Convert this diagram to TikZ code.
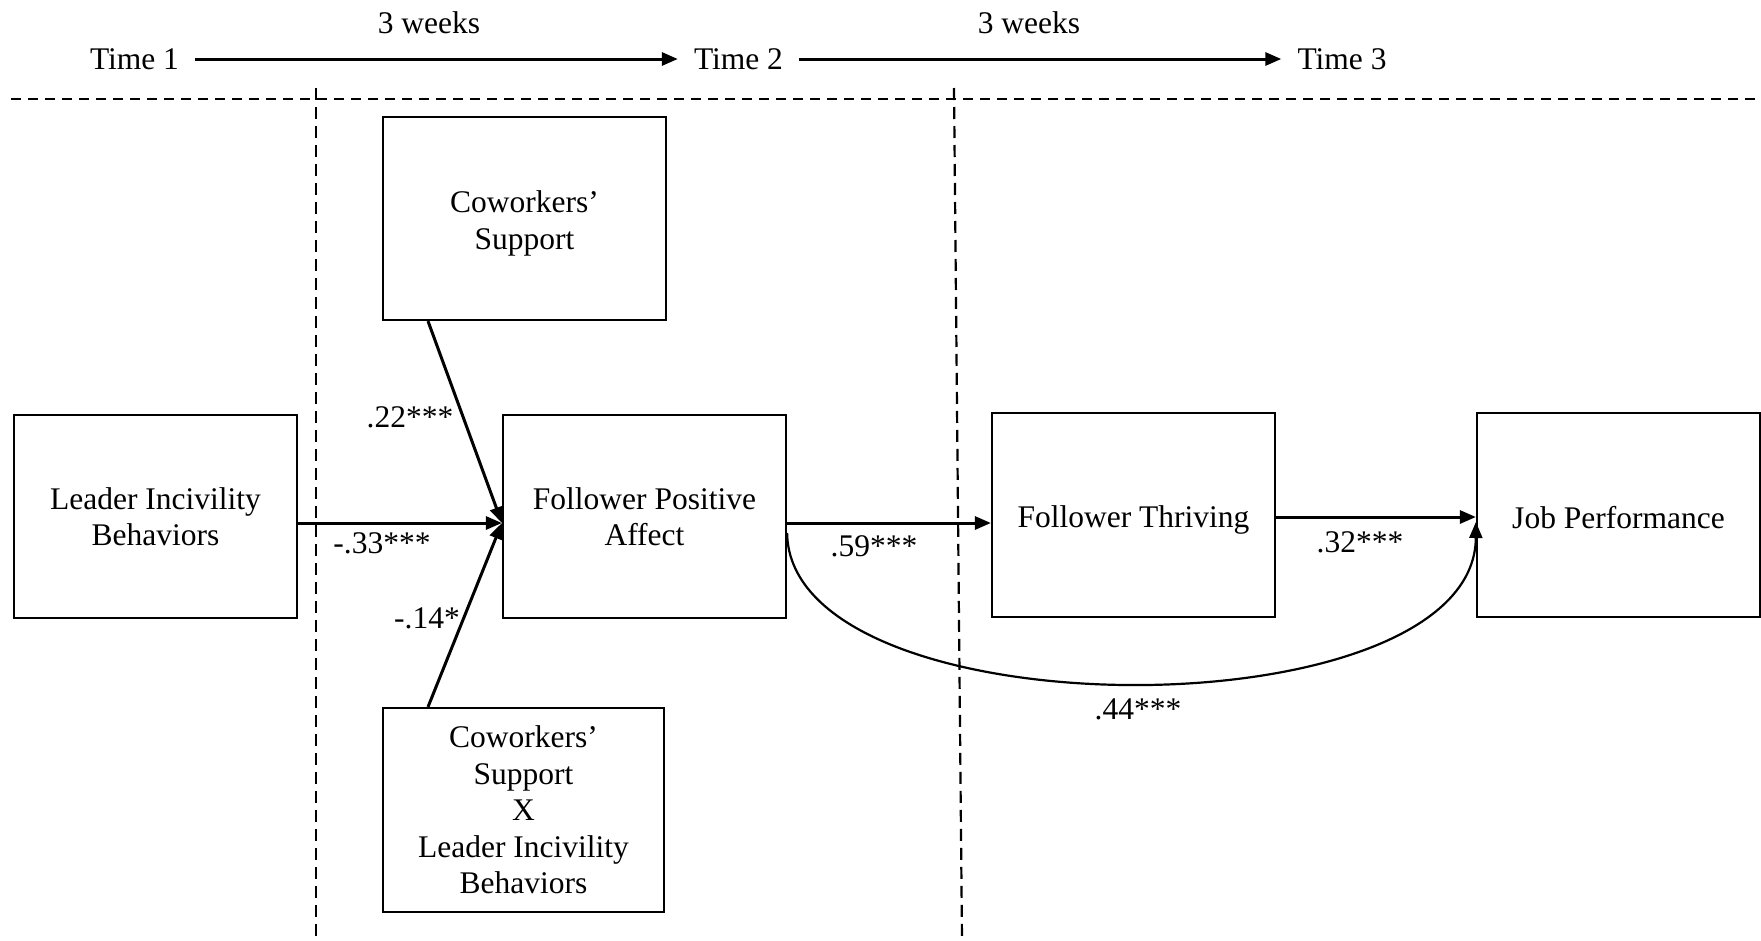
\documentclass[tikz,border=0pt]{standalone}
\usepackage{fontspec}
\setmainfont{Liberation Serif}
\usetikzlibrary{arrows.meta,calc}
\begin{document}
\begin{tikzpicture}[x=1pt,y=-1pt,
  every node/.style={font=\fontsize{31.5pt}{36.5pt}\selectfont},
  box/.style={draw,line width=2.2pt,minimum width=283pt,minimum height=203pt,inner sep=0pt,align=center,fill=white},
  lbl/.style={inner sep=0pt},
  tlbl/.style={inner ysep=0pt,inner xsep=16pt},
  arr/.style={line width=3pt,-{Triangle[length=16pt,width=13pt]}},
  dshh/.style={line width=2.2pt,dash pattern=on 10pt off 7pt},
  dshv/.style={line width=2.2pt,dash pattern=on 12pt off 7pt}
]
\fill[white] (0,0) rectangle (1761,940);
\useasboundingbox (0,0) rectangle (1761,940);

% time dividers
\draw[dshh] (11,99) -- (1761,99);
\draw[dshv] (316,88) -- (316,940);
\draw[dshv] (954,88) -- (962,940);

% timeline
\node[tlbl] (t1) at (134.5,59) {Time 1};
\node[tlbl] (t2) at (738.5,59) {Time 2};
\node[tlbl] (t3) at (1342,59) {Time 3};
\node[lbl] (w1) at (429,22.5) {3 weeks};
\node[lbl] (w2) at (1029,22.5) {3 weeks};
\draw[arr] (t1.east) -- (t2.west);
\draw[arr] (t2.east) -- (t3.west);

% boxes
\node[box] (lead) at (155.5,516.5) {Leader Incivility\\Behaviors};
\node[box] (cws) at (524.5,218.5) {\rule{0pt}{31.5pt}Coworkers’\\Support};
\node[box] (fpa) at (644.5,516.5) {Follower Positive\\Affect};
\node[box,minimum width=281pt,minimum height=204pt] (inter) at (523.5,810) {Coworkers’\\Support\\X\\Leader Incivility\\Behaviors};
\node[box,minimum height=204pt,text depth=0pt] (thr) at (1133.5,515) {\rule{0pt}{24pt}Follower Thriving};
\node[box,minimum height=204pt] (job) at (1618.5,515) {\rule{0pt}{26.5pt}Job Performance};

% paths
\draw[arr] ($(lead.east)+(0,6.5)$) -- ($(fpa.west)+(0,6.5)$);
\draw[arr] ($(cws.south)+(-96.5,0)$) -- ($(fpa.west)+(0,6.5)$);
\draw[arr] ($(inter.north)+(-95.5,0)$) -- ($(fpa.west)+(0,6.5)$);
\draw[arr] ($(fpa.east)+(0,6.5)$) -- ($(thr.west)+(0,8)$);
\draw[arr] ($(thr.east)+(0,2)$) -- ($(job.west)+(0,2)$);
\draw[arr,line width=2.2pt] ($(fpa.east)+(0,16.5)$) .. controls (790,735) and (1475,735) .. ($(job.west)+(0,7)$);

% coefficients
\node[lbl] (l22) at (410,417) {.22***};
\node[lbl] (l33) at (382,543) {-.33***};
\node[lbl] (l14) at (427,618) {-.14*};
\node[lbl] (l59) at (874,546) {.59***};
\node[lbl] (l32) at (1360,542) {.32***};
\node[lbl] (l44) at (1138,709) {.44***};
\end{tikzpicture}
\end{document}
